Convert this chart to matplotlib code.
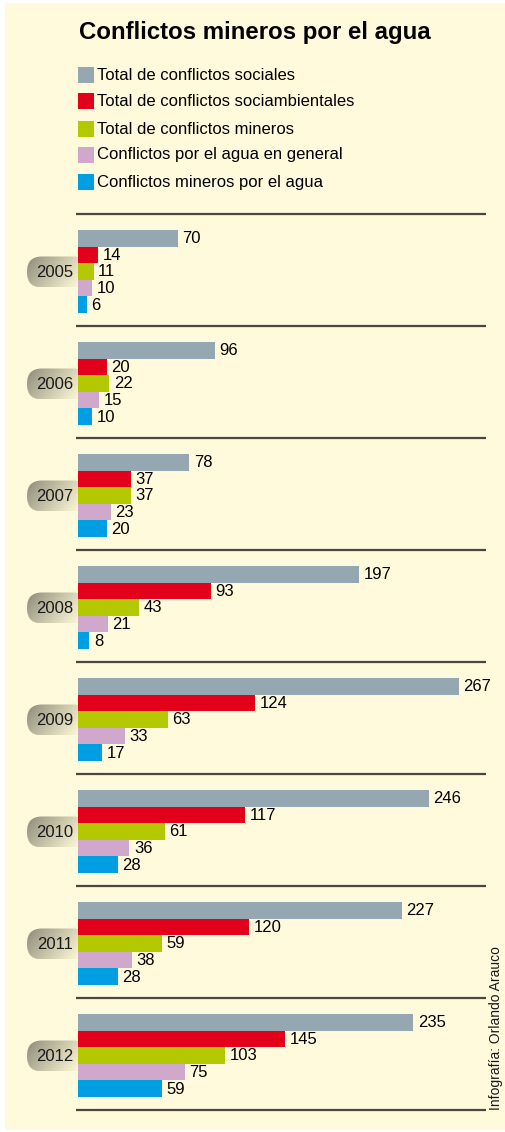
import numpy as np
import matplotlib
matplotlib.use("Agg")
import matplotlib.pyplot as plt
from matplotlib.patches import Rectangle, FancyBboxPatch

# ---- data ----
years = ["2005", "2006", "2007", "2008", "2009", "2010", "2011", "2012"]
series_names = [
    "Total de conflictos sociales",
    "Total de conflictos sociambientales",
    "Total de conflictos mineros",
    "Conflictos por el agua en general",
    "Conflictos mineros por el agua",
]
sociales = [70, 96, 78, 197, 267, 246, 227, 235]
sociambientales = [14, 20, 37, 93, 124, 117, 120, 145]
mineros = [11, 22, 37, 43, 63, 61, 59, 103]
agua_general = [10, 15, 23, 21, 33, 36, 38, 75]
mineros_agua = [6, 10, 20, 8, 17, 28, 28, 59]
colors = ["#95a7b1", "#e2001a", "#b4c800", "#cfa8cc", "#009fe3"]
title = "Conflictos mineros por el agua"
credit = "Infografía: Orlando Arauco"

plt.rcParams["font.family"] = ["Liberation Sans", "DejaVu Sans"]

W, H = 506, 1132
fig = plt.figure(figsize=(W / 100, H / 100), dpi=100)
fig.patch.set_facecolor("white")

# decoration axes in pixel coordinates
deco = fig.add_axes([0, 0, 1, 1])
deco.set_xlim(0, W)
deco.set_ylim(H, 0)
deco.axis("off")
deco.add_patch(Rectangle((5, 3), 500, 1127, facecolor="#fffadc", edgecolor="none", zorder=0))

deco.text(79, 33, title, fontsize=17.3, fontweight="bold", va="center", ha="left", color="black")

leg_y = [75, 101, 129, 155, 182]
for name, c, y in zip(series_names, colors, leg_y):
    deco.add_patch(Rectangle((78, y - 8), 16, 16, facecolor=c, edgecolor="none"))
    deco.text(97, y, name, fontsize=12, va="center", ha="left", color="black")

GROUP0, STEP = 214, 112
BAR_H = 16.6
# separator lines
for k in range(len(years) + 1):
    y = GROUP0 + k * STEP
    deco.plot([76, 486], [y, y], color="#4a473c", lw=1.6, solid_capstyle="butt")

# year badges with gradient
gx = np.linspace(0, 1, 200)
gy = np.linspace(0, 1, 60)
GX, GY = np.meshgrid(gx, gy)
t = np.clip(0.8 * GX + 0.3 * GY, 0, 1) ** 0.9
dark = np.array([0.54, 0.53, 0.47])
light = np.array([1.0, 0.98, 0.84])
grad = dark[None, None, :] * (1 - t[..., None]) + light[None, None, :] * t[..., None]
for k, yr in enumerate(years):
    cy = GROUP0 + k * STEP + 58
    x0, x1, h = 27, 88, 31
    patch = FancyBboxPatch((x0 + 8, cy - h / 2 + 8), (x1 - x0) - 16, h - 16,
                           boxstyle="round,pad=8,rounding_size=15",
                           facecolor="none", edgecolor="none", transform=deco.transData)
    deco.add_patch(patch)
    im = deco.imshow(grad, extent=[x0, x1, cy + h / 2, cy - h / 2], aspect="auto",
                     zorder=1, interpolation="bilinear")
    im.set_clip_path(patch)
    deco.text(55, cy + 0.5, yr, fontsize=12, ha="center", va="center", color="#1a1a1a", zorder=2)

deco.text(496, 1110, credit, fontsize=10, rotation=90, ha="center", va="bottom", color="#1a1a1a")
deco.set_xlim(0, W)
deco.set_ylim(H, 0)

# bar axes
S = 1.427  # pixels per unit
ax = fig.add_axes([0, 0, 1, 1])
ax.patch.set_alpha(0)
ax.set_xlim(-78 / S, (W - 78) / S)
ax.set_ylim(H, 0)
ax.axis("off")

all_series = [sociales, sociambientales, mineros, agua_general, mineros_agua]
for k in range(len(years)):
    top = GROUP0 + k * STEP + 16
    for j, (vals, c) in enumerate(zip(all_series, colors)):
        yc = top + BAR_H * (j + 0.5)
        ax.barh(yc, vals[k], height=BAR_H, left=0, color=c, edgecolor="none", zorder=3)
        ax.text(vals[k] + 4.5 / S, yc + 0.5, str(vals[k]), fontsize=12, va="center", ha="left",
                color="black", zorder=4)

fig.savefig("out.png", dpi=100)
